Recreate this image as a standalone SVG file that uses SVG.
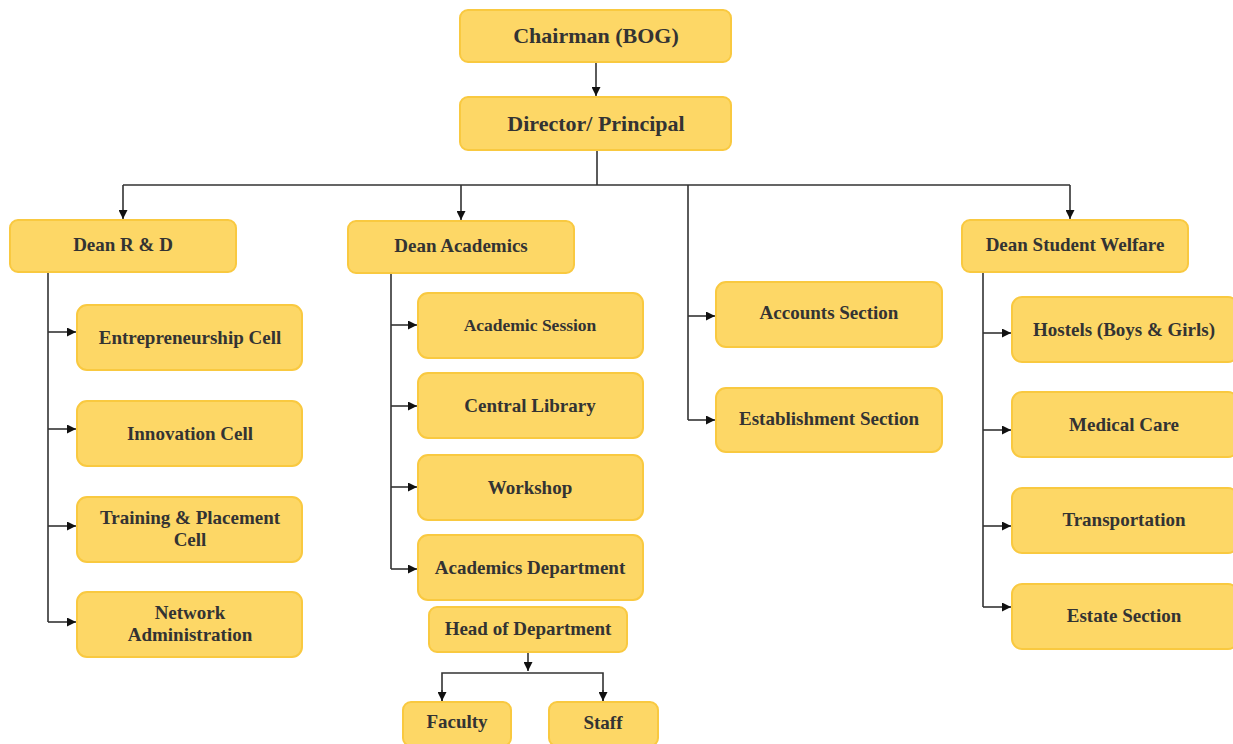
<svg xmlns="http://www.w3.org/2000/svg" width="1233" height="744" viewBox="0 0 1233 744">
<style>
.b{fill:#fdd766;stroke:#f9c940;stroke-width:2}
.t{font-family:"Liberation Serif",serif;font-weight:bold;fill:#333;text-anchor:middle;font-size:19px}
.l{fill:none;stroke:#333;stroke-width:1.6}
</style>
<defs>
<marker id="a" viewBox="0 0 10 10" refX="10" refY="5" markerWidth="9" markerHeight="9" orient="auto" markerUnits="userSpaceOnUse">
<path d="M0,0 L10,5 L0,10 z" fill="#111"/>
</marker>
</defs>
<rect width="1233" height="744" fill="#fff"/>
<g id="connectors">
<path class="l" d="M596,62 V96" marker-end="url(#a)"/>
<path class="l" d="M597,150 V185 M123,185 H1070"/>
<path class="l" d="M123,185 V219" marker-end="url(#a)"/>
<path class="l" d="M461,185 V220" marker-end="url(#a)"/>
<path class="l" d="M1070,185 V219" marker-end="url(#a)"/>
<path class="l" d="M688,185 V420"/>
<path class="l" d="M688,316 H715" marker-end="url(#a)"/>
<path class="l" d="M688,420 H715" marker-end="url(#a)"/>
<path class="l" d="M48,272 V622"/>
<path class="l" d="M48,332 H76" marker-end="url(#a)"/>
<path class="l" d="M48,429 H76" marker-end="url(#a)"/>
<path class="l" d="M48,526 H76" marker-end="url(#a)"/>
<path class="l" d="M48,622 H76" marker-end="url(#a)"/>
<path class="l" d="M391,273 V569"/>
<path class="l" d="M391,325 H417" marker-end="url(#a)"/>
<path class="l" d="M391,406 H417" marker-end="url(#a)"/>
<path class="l" d="M391,487 H417" marker-end="url(#a)"/>
<path class="l" d="M391,569 H417" marker-end="url(#a)"/>
<path class="l" d="M983,272 V607"/>
<path class="l" d="M983,333 H1011" marker-end="url(#a)"/>
<path class="l" d="M983,430 H1011" marker-end="url(#a)"/>
<path class="l" d="M983,526 H1011" marker-end="url(#a)"/>
<path class="l" d="M983,607 H1011" marker-end="url(#a)"/>
<path class="l" d="M528,652 V671" marker-end="url(#a)"/>
<path class="l" d="M442,701 V673 H603 V701"/>
<path class="l" d="M442,690 V701" marker-end="url(#a)"/>
<path class="l" d="M603,690 V701" marker-end="url(#a)"/>
</g>
<g id="chairman"><rect class="b" x="460" y="10" width="271" height="52" rx="8"/><text class="t" x="596" y="43" style="font-size:22px">Chairman (BOG)</text></g>
<g id="director"><rect class="b" x="460" y="97" width="271" height="53" rx="8"/><text class="t" x="596" y="131" style="font-size:22px">Director/ Principal</text></g>
<g id="dean-rd"><rect class="b" x="10" y="220" width="226" height="52" rx="8"/><text class="t" x="123" y="251">Dean R &amp; D</text></g>
<g id="dean-academics"><rect class="b" x="348" y="221" width="226" height="52" rx="8"/><text class="t" x="461" y="252">Dean Academics</text></g>
<g id="dean-sw"><rect class="b" x="962" y="220" width="226" height="52" rx="8"/><text class="t" x="1075" y="251">Dean Student Welfare</text></g>
<g id="entrepreneurship"><rect class="b" x="77" y="305" width="225" height="65" rx="10"/><text class="t" x="190" y="344">Entrepreneurship Cell</text></g>
<g id="innovation"><rect class="b" x="77" y="401" width="225" height="65" rx="10"/><text class="t" x="190" y="440">Innovation Cell</text></g>
<g id="training"><rect class="b" x="77" y="497" width="225" height="65" rx="10"/><text class="t" x="190" y="524">Training &amp; Placement</text><text class="t" x="190" y="546">Cell</text></g>
<g id="network"><rect class="b" x="77" y="592" width="225" height="65" rx="10"/><text class="t" x="190" y="619">Network</text><text class="t" x="190" y="641">Administration</text></g>
<g id="academic-session"><rect class="b" x="418" y="293" width="225" height="65" rx="10"/><text class="t" x="530" y="331" style="font-size:17.5px">Academic Session</text></g>
<g id="central-library"><rect class="b" x="418" y="373" width="225" height="65" rx="10"/><text class="t" x="530" y="412">Central Library</text></g>
<g id="workshop"><rect class="b" x="418" y="455" width="225" height="65" rx="10"/><text class="t" x="530" y="494">Workshop</text></g>
<g id="academics-dept"><rect class="b" x="418" y="535" width="225" height="65" rx="10"/><text class="t" x="530" y="574">Academics Department</text></g>
<g id="hod"><rect class="b" x="429" y="607" width="198" height="45" rx="8"/><text class="t" x="528" y="635">Head of Department</text></g>
<g id="faculty"><rect class="b" x="403" y="702" width="108" height="44" rx="8"/><text class="t" x="457" y="728">Faculty</text></g>
<g id="staff"><rect class="b" x="549" y="702" width="109" height="44" rx="8"/><text class="t" x="603" y="729">Staff</text></g>
<g id="accounts"><rect class="b" x="716" y="282" width="226" height="65" rx="10"/><text class="t" x="829" y="319">Accounts Section</text></g>
<g id="establishment"><rect class="b" x="716" y="388" width="226" height="64" rx="10"/><text class="t" x="829" y="425">Establishment Section</text></g>
<g id="hostels"><rect class="b" x="1012" y="297" width="226" height="65" rx="10"/><text class="t" x="1124" y="336">Hostels (Boys &amp; Girls)</text></g>
<g id="medical"><rect class="b" x="1012" y="392" width="226" height="65" rx="10"/><text class="t" x="1124" y="431">Medical Care</text></g>
<g id="transportation"><rect class="b" x="1012" y="488" width="226" height="65" rx="10"/><text class="t" x="1124" y="526">Transportation</text></g>
<g id="estate"><rect class="b" x="1012" y="584" width="226" height="65" rx="10"/><text class="t" x="1124" y="622">Estate Section</text></g>
</svg>
